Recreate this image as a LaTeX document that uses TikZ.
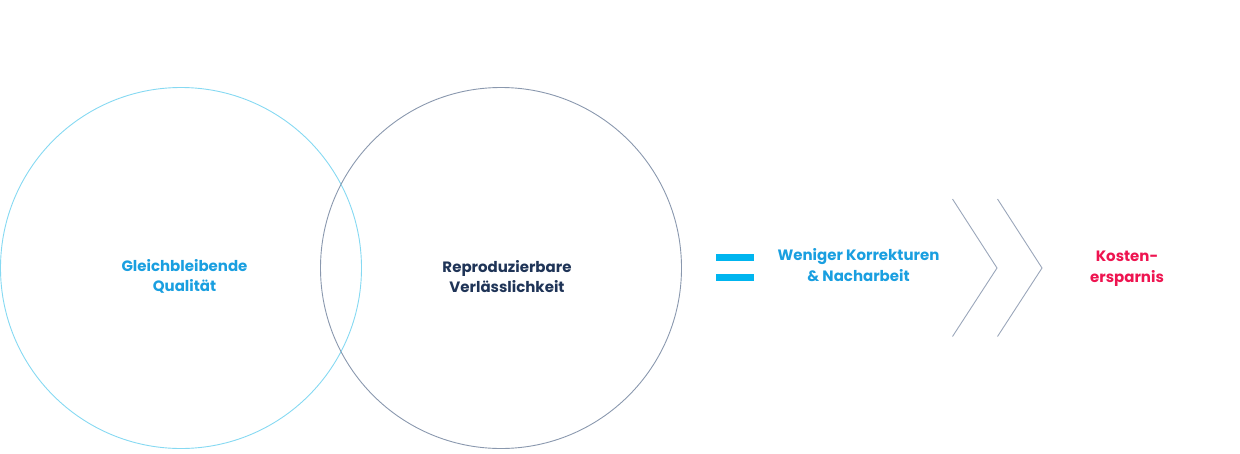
\documentclass[tikz,border=0pt]{standalone}
\usepackage{fontspec}
\setmainfont{Poppins}
\usepackage{xcolor}
\definecolor{skyline}{HTML}{86D9F2}
\definecolor{slateline}{HTML}{8A98AE}
\definecolor{skytext}{HTML}{1A9FE0}
\definecolor{navytext}{HTML}{1F3457}
\definecolor{eqblue}{HTML}{00B5EF}
\definecolor{costred}{HTML}{EE1450}
\definecolor{chevgray}{HTML}{9AA6BA}

\begin{document}
\begin{tikzpicture}[x=1pt,y=-1pt,
    circ/.style={circle, draw, line width=0.9pt, minimum size=361pt, inner sep=0pt},
    lbl/.style={align=center, font=\fontsize{15}{20.5}\selectfont\bfseries},
    bar/.style={fill=eqblue, minimum width=38pt, minimum height=7pt, inner sep=0pt}]
    \useasboundingbox (0,0) rectangle (1240,453);

    \node[circ, draw=skyline] (circA) at (181,268) {};
    \node[circ, draw=slateline] (circB) at (501,268) {};
    \node[lbl, text=skytext] (quality) at (184.5,276.5) {Gleichbleibende\\Qualität};
    \node[lbl, text=navytext] (reliab) at (507,276.5) {Reproduzierbare\\Verlässlichkeit};

    \node[bar] (eqtop) at (735,257.5) {};
    \node[bar] (eqbot) at (735,277.5) {};

    \node[lbl, text=skytext] (fewer) at (858.5,265) {Weniger Korrekturen\\\& Nacharbeit};

    \draw[chevgray, line width=0.9pt] (952.5,199) -- (997,268) -- (952.5,336.5);
    \draw[chevgray, line width=0.9pt] (997.5,199) -- (1042,268) -- (997.5,336.5);

    \node[lbl, text=costred] (savings) at (1127,268.5) {Kosten-\\ersparnis};

\end{tikzpicture}
\end{document}
